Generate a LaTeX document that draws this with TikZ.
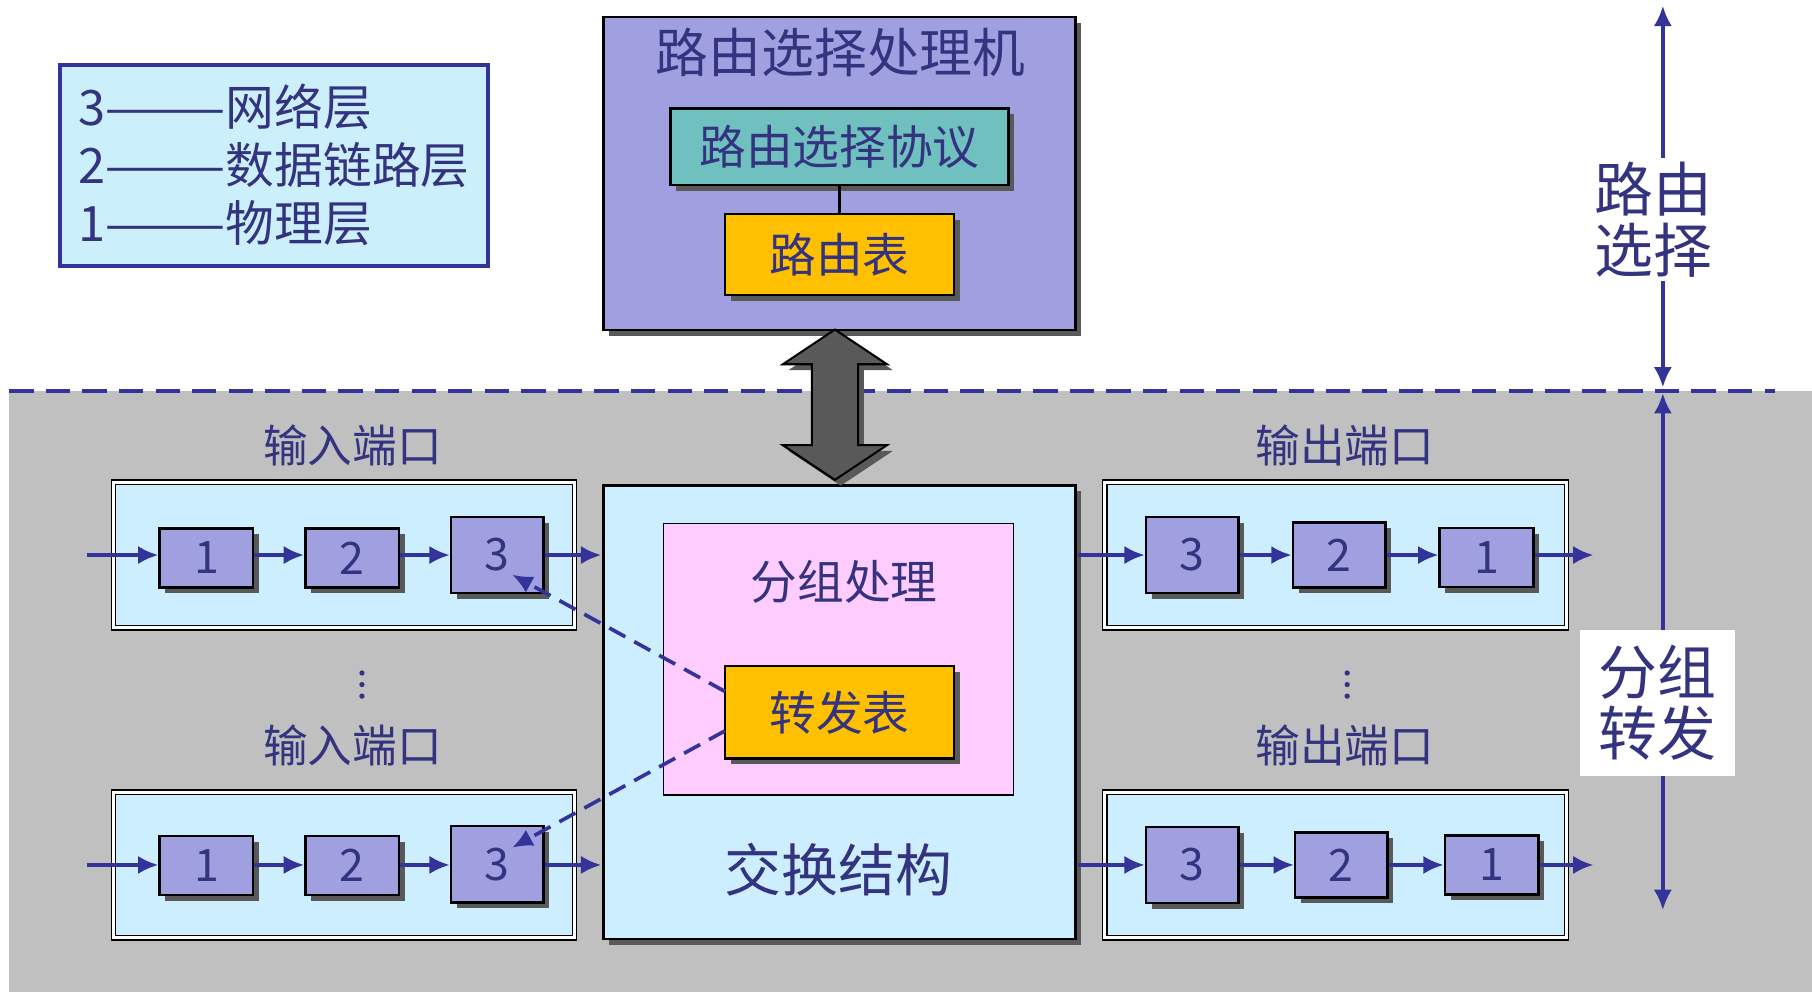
\documentclass[tikz,border=0pt]{standalone}
\usepackage{fontspec}
\setmainfont{Noto Sans CJK SC}
\usetikzlibrary{shadows,arrows.meta}
\definecolor{navy}{HTML}{333399}
\definecolor{txt}{HTML}{33337F}
\definecolor{bg}{HTML}{C0C0C0}
\definecolor{lb}{HTML}{CCEEFF}
\definecolor{pur}{HTML}{A0A0E0}
\definecolor{teal}{HTML}{70C0C0}
\definecolor{org}{HTML}{FFC000}
\definecolor{pink}{HTML}{FFCCFF}
\begin{document}
\begin{tikzpicture}[x=0.02cm,y=-0.02cm,
 sh/.style={drop shadow={shadow xshift=0.1cm,shadow yshift=-0.1cm,opacity=1,fill=black!65}},
 bx/.style={draw=black,line width=1.2pt,sh,inner sep=0pt,text=txt},
 num/.style={bx,fill=pur,minimum width=81*0.02cm,minimum height=51*0.02cm,font=\fontsize{22}{22}\selectfont},
 port/.style={draw=black,double=white,double distance=1.5pt,line width=0.6pt,fill=lb,minimum width=399*0.02cm,minimum height=126*0.02cm,inner sep=0pt},
 lbl/.style={text=txt,font=\fontsize{22}{24}\selectfont},
 ar/.style={navy,line width=1.8pt,-{Latex[length=10pt,width=9pt]}},
 dar/.style={navy,line width=1.8pt,{Latex[length=10pt,width=9pt]}-{Latex[length=10pt,width=9pt]}}]
\useasboundingbox (0,0) rectangle (1567,858);
\fill[bg] (8,338) rectangle (1567,858);
\draw[navy,line width=1.8pt,dash pattern=on 12pt off 6pt] (8,338) -- (1535,338);
% legend
\node[draw=navy,line width=1.8pt,fill=cyan!20,minimum width=370*0.02cm,minimum height=174*0.02cm,inner sep=0pt] (leg) at (237,143) {};
\node[lbl,anchor=west,font=\fontsize{24}{24}\selectfont] (l3) at (62,92) {3———网络层};
\node[lbl,anchor=west,font=\fontsize{24}{24}\selectfont] (l2) at (62,143) {2———数据链路层};
\node[lbl,anchor=west,font=\fontsize{24}{24}\selectfont] (l1) at (62,193) {1———物理层};
% routing processor
\node[bx,fill=pur,minimum width=408*0.02cm,minimum height=271*0.02cm] (rp) at (726,150) {};
\node[lbl,font=\fontsize{26}{26}\selectfont] (rpt) at (727,45) {路由选择处理机};
\node[bx,fill=teal,minimum width=292*0.02cm,minimum height=66*0.02cm,font=\fontsize{23}{23}\selectfont] (pr) at (726,127) {路由选择协议};
\node[bx,fill=org,minimum width=198*0.02cm,minimum height=70*0.02cm,font=\fontsize{23}{23}\selectfont] (rt) at (726,220) {路由表};
\draw[line width=1.5pt] (pr) -- (rt);
% switching fabric
\node[bx,fill=lb,minimum width=408*0.02cm,minimum height=392*0.02cm] (sf) at (726,616) {};
\node[lbl,font=\fontsize{28}{28}\selectfont] (sft) at (725,752) {交换结构};
\node[draw=black,line width=0.6pt,fill=pink,minimum width=303*0.02cm,minimum height=235*0.02cm,inner sep=0pt] (pk) at (725,570) {};
\node[lbl,font=\fontsize{23}{23}\selectfont] (pkt) at (730,503) {分组处理};
\node[bx,fill=org,minimum width=198*0.02cm,minimum height=80*0.02cm,font=\fontsize{23}{23}\selectfont] (ft) at (726,616) {转发表};
% double arrow
\coordinate (da) at (722,350);
\draw[draw=black,line width=1pt,fill=black!65,sh] (722,285) -- (767,315) -- (742,315) -- (742,385) -- (767,385) -- (722,415) -- (677,385) -- (702,385) -- (702,315) -- (677,315) -- cycle;
% ports
\foreach \r/\y in {a/480,b/748}{
 \node[port] (ip\r) at (297.5,\y) {};
 \node[port] (op\r) at (1155,\y) {};
}
\node[num] (ia1) at (178.5,482.5) {1};
\node[num] (ia2) at (304.5,482.5) {2};
\node[num,minimum width=80*0.02cm,minimum height=66*0.02cm] (ia3) at (430,480) {3};
\node[num] (ib1) at (178.5,748.5) {1};
\node[num] (ib2) at (304.5,748.5) {2};
\node[num,minimum width=80*0.02cm,minimum height=66*0.02cm] (ib3) at (430,747.5) {3};
\node[num,minimum width=80*0.02cm,minimum height=66*0.02cm] (oa3) at (1031,480) {3};
\node[num,minimum width=80*0.02cm,minimum height=56*0.02cm] (oa2) at (1158,480) {2};
\node[num] (oa1) at (1285.5,482) {1};
\node[num,minimum width=80*0.02cm,minimum height=66*0.02cm] (ob3) at (1031,748) {3};
\node[num,minimum width=80*0.02cm,minimum height=56*0.02cm] (ob2) at (1160,748) {2};
\node[num] (ob1) at (1290,748) {1};
\foreach \r/\y in {a/480,b/748}{
 \coordinate (s\r) at (75,\y); \coordinate (e\r) at (520,\y);
 \coordinate (os\r) at (932,\y); \coordinate (oe\r) at (1378,\y);
 \draw[ar] (s\r) -- (i\r1.west|-s\r);
 \draw[ar] (i\r1.east|-s\r) -- (i\r2.west|-s\r);
 \draw[ar] (i\r2.east|-s\r) -- (i\r3.west|-s\r);
 \draw[ar] (i\r3.east|-s\r) -- (e\r);
 \draw[ar] (os\r) -- (o\r3.west|-s\r);
 \draw[ar] (o\r3.east|-s\r) -- (o\r2.west|-s\r);
 \draw[ar] (o\r2.east|-s\r) -- (o\r1.west|-s\r);
 \draw[ar] (o\r1.east|-s\r) -- (oe\r);
}
\node[lbl] (t1) at (305,385) {输入端口};
\node[lbl] (t2) at (305,645) {输入端口};
\node[lbl] (t3) at (1163,385) {输出端口};
\node[lbl] (t4) at (1163,645) {输出端口};
\foreach \x in {313,1165}{\foreach \y in {582,592,602}{\fill[txt] (\x,\y) circle (1.3pt);}}
% dashed
\coordinate (f1) at (627,598); \coordinate (f2) at (627,632);
\coordinate (g1) at (443,497); \coordinate (g2) at (443,733);
\draw[ar,dash pattern=on 9pt off 5pt] (f1) -- (g1);
\draw[ar,dash pattern=on 9pt off 5pt] (f2) -- (g2);
% right
\coordinate (r1) at (1438,5); \coordinate (r2) at (1438,335);
\coordinate (r3) at (1438,340); \coordinate (r4) at (1438,787);
\draw[dar] (r1) -- (r2);
\draw[dar] (r3) -- (r4);
\node[lbl,fill=white,font=\fontsize{29}{30}\selectfont,align=center,inner sep=2pt] (rl1) at (1430,190) {路由\\选择};
\node[lbl,fill=white,font=\fontsize{29}{30}\selectfont,align=center,minimum width=134*0.02cm,minimum height=126*0.02cm,inner sep=0pt] (rl2) at (1433,608) {分组\\转发};
\end{tikzpicture}
\end{document}
